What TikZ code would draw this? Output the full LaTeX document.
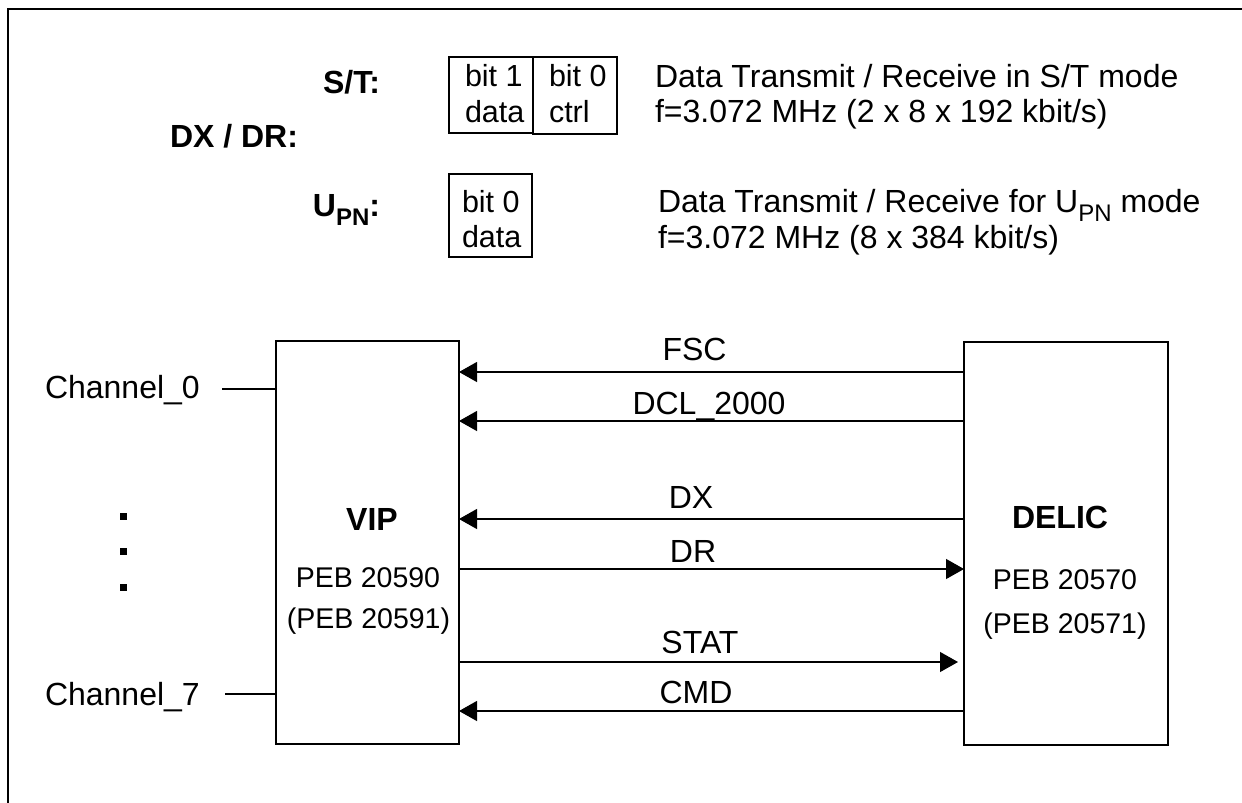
\documentclass[tikz,border=0pt]{standalone}
\usepackage{fontspec}
\setmainfont{Liberation Sans}
\usetikzlibrary{arrows.meta}
\tikzset{
  txt/.style={inner sep=0pt, outer sep=0pt, font=\fontsize{32}{38}\selectfont},
  btxt/.style={txt, font=\fontsize{32}{38}\selectfont\bfseries},
  stxt/.style={txt, font=\fontsize{28.5}{34}\selectfont},
  ctxt/.style={txt, font=\fontsize{30.5}{36}\selectfont},
  chip/.style={draw, line width=1.3pt, inner sep=0pt, outer sep=0pt, rectangle},
  bitbox/.style={draw, line width=1.3pt, inner sep=0pt, outer sep=0pt, rectangle},
  sig/.style={line width=1.2pt, -{Triangle[length=18pt,width=20pt]}},
  plain/.style={line width=1.2pt},
  dotsq/.style={fill, rectangle, minimum size=7pt, inner sep=0pt}
}
\newcommand{\subPN}{\raisebox{-9pt}{\fontsize{24}{28}\selectfont PN}}
\begin{document}
\begin{tikzpicture}[x=1pt,y=-1pt]
\useasboundingbox (0,0) rectangle (1242,803);
\fill[white] (0,0) rectangle (1242,803);
% frame
\draw[line width=1.5pt] (8,803) -- (8,9) -- (1242,9);

% top labels
\node[btxt, anchor=base east] (stlab) at (380,93) {S/T:};
\node[btxt, anchor=base west] (dxdr) at (170,147) {DX / DR:};
\node[btxt, anchor=base east] (upnlab) at (380,216) {U\subPN:};

% bit boxes
\node[bitbox, minimum width=84pt, minimum height=76pt] (b1) at (491,95) {};
\node[bitbox, minimum width=84pt, minimum height=77pt] (b2) at (575,95.5) {};
\node[bitbox, minimum width=83pt, minimum height=83pt] (b3) at (490.5,215.5) {};
\node[ctxt, anchor=base west] (b1a) at (465,86) {bit 1};
\node[ctxt, anchor=base west] (b1b) at (465,122) {data};
\node[ctxt, anchor=base west] (b2a) at (549,86) {bit 0};
\node[ctxt, anchor=base west] (b2b) at (549,122) {ctrl};
\node[ctxt, anchor=base west] (b3a) at (462,212) {bit 0};
\node[ctxt, anchor=base west] (b3b) at (462,247) {data};

% descriptions
\node[txt, anchor=base west] (d1) at (655,87) {Data Transmit / Receive in S/T mode};
\node[txt, anchor=base west] (d2) at (655,122) {f=3.072 MHz (2 x 8 x 192 kbit/s)};
\node[txt, anchor=base west] (d3) at (658,212) {Data Transmit / Receive for U\subPN{} mode};
\node[txt, anchor=base west] (d4) at (658,248) {f=3.072 MHz (8 x 384 kbit/s)};

% chips
\node[chip, minimum width=183pt, minimum height=403pt] (vip) at (367.5,542.5) {};
\node[chip, minimum width=204pt, minimum height=403pt] (delic) at (1066,543.5) {};
\node[btxt, anchor=base] (viplab) at (372,530) {VIP};
\node[stxt, anchor=base] (vip1) at (368,587) {PEB 20590};
\node[stxt, anchor=base] (vip2) at (368.5,628) {(PEB 20591)};
\node[btxt, anchor=base] (dellab) at (1060,528) {DELIC};
\node[stxt, anchor=base] (del1) at (1065,589) {PEB 20570};
\node[stxt, anchor=base] (del2) at (1065,633) {(PEB 20571)};

% channels
\node[txt, anchor=base west] (ch0) at (45,398) {Channel\_0};
\node[txt, anchor=base west] (ch7) at (45,705) {Channel\_7};
\coordinate (c0) at (222,389);
\coordinate (c7) at (225,694);
\draw[plain] (c0) -- (vip.west |- c0);
\draw[plain] (c7) -- (vip.west |- c7);
\node[dotsq] (dt1) at (123,516) {};
\node[dotsq] (dt2) at (123,551) {};
\node[dotsq] (dt3) at (123,587) {};

% signal rows
\coordinate (yfsc) at (0,372);
\coordinate (ydcl) at (0,421);
\coordinate (ydx) at (0,519);
\coordinate (ydr) at (0,569);
\coordinate (ystat) at (0,662);
\coordinate (ycmd) at (0,711);
\draw[sig] (delic.west |- yfsc) -- (vip.east |- yfsc);
\draw[sig] (delic.west |- ydcl) -- (vip.east |- ydcl);
\draw[sig] (delic.west |- ydx) -- (vip.east |- ydx);
\draw[sig] (vip.east |- ydr) -- (delic.west |- ydr);
\draw[sig, shorten >=6pt] (vip.east |- ystat) -- (delic.west |- ystat);
\draw[sig] (delic.west |- ycmd) -- (vip.east |- ycmd);

\node[txt, anchor=base] (lfsc) at (694.5,360) {FSC};
\node[txt, anchor=base] (ldcl) at (709,414) {DCL\_2000};
\node[txt, anchor=base] (ldx) at (691,508) {DX};
\node[txt, anchor=base] (ldr) at (693,562) {DR};
\node[txt, anchor=base] (lstat) at (700,653) {STAT};
\node[txt, anchor=base] (lcmd) at (696,703) {CMD};
\end{tikzpicture}
\end{document}
